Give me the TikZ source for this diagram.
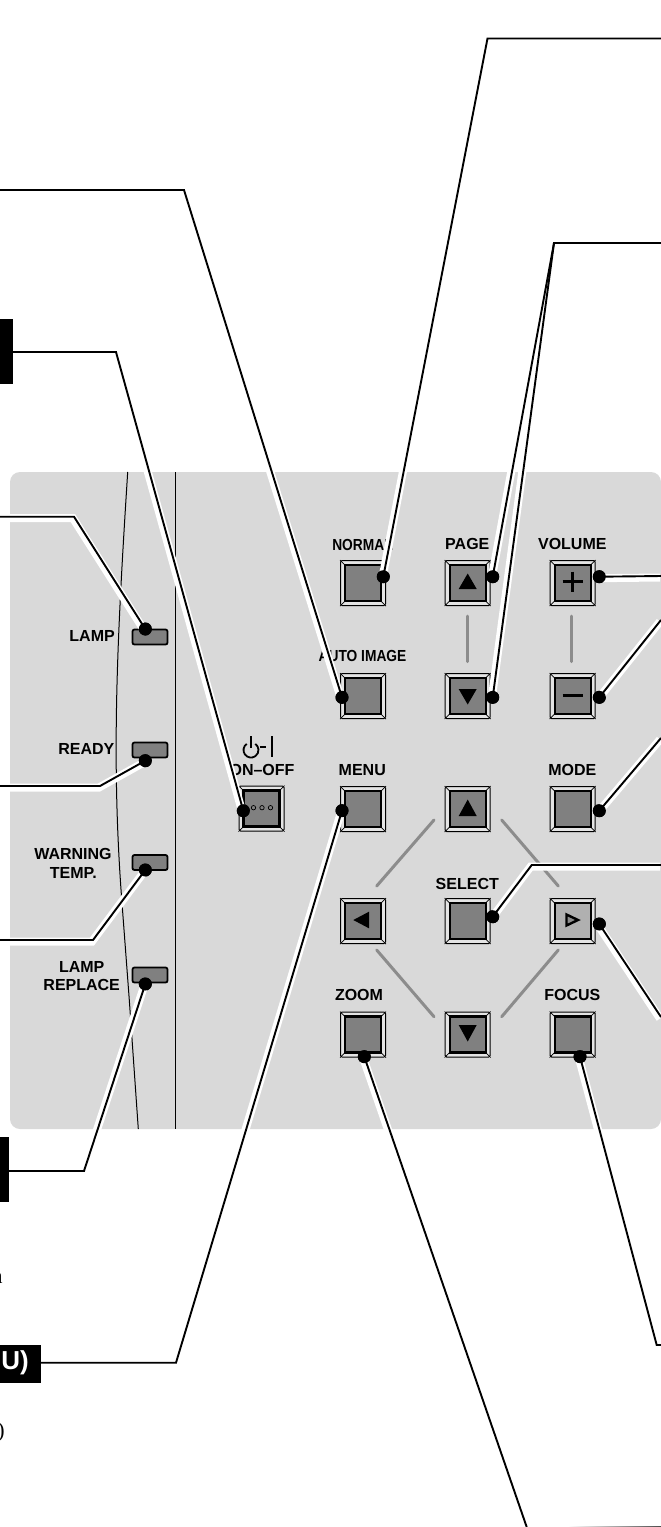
\documentclass[tikz,border=0pt]{standalone}
\usepackage{fontspec}
\setmainfont{Liberation Sans}
\newfontfamily\noteserif{Liberation Serif}
\usetikzlibrary{positioning, calc}
\definecolor{panelgray}{RGB}{217,217,217}
\definecolor{facegray}{RGB}{128,128,128}
\definecolor{litgray}{RGB}{176,176,176}
\definecolor{bargray}{RGB}{140,140,140}
\definecolor{framegray}{RGB}{228,228,228}

\begin{document}
\begin{tikzpicture}[
    x=1pt, y=-1pt,
    every node/.style={font=\fontsize{16}{18}\selectfont\bfseries, inner sep=0pt},
    btnframe/.style={rectangle, draw=black, line width=1pt, fill=framegray, rounded corners=1.5pt, minimum size=45pt},
    btnface/.style={rectangle, draw=black, line width=2.2pt, fill=facegray, minimum size=36pt},
    ledlamp/.style={rectangle, draw=black, line width=1.8pt, fill=facegray, rounded corners=2pt, minimum width=35pt, minimum height=15pt},
    leaddot/.style={circle, fill=black, minimum size=13pt},
    tagbox/.style={rectangle, fill=black, anchor=north west},
    halo/.style={draw=white, line width=8pt, miter limit=20, transform canvas={xshift=-1pt, yshift=-1.5pt}},
    leader/.style={draw=black, line width=1.9pt, line join=miter},
    linkbar/.style={draw=bargray, line width=3pt, line cap=round},
    icon/.style={fill=black, draw=none},
    narrowlbl/.style={xscale=0.86, transform shape},
    notetext/.style={anchor=base east, font=\fontsize{22}{24}\selectfont\noteserif}
]

\useasboundingbox (0,0) rectangle (661,1527);

% panel
\fill[panelgray, rounded corners=10pt] (10,472) rectangle (661,1129);
\draw[line width=1pt] (127.7,472) .. controls (117,640) and (111,760) .. (122,903) -- (129.3,1000) -- (138.3,1129);
\draw[line width=1pt] (175.5,472) -- (175.5,1129);

% link bars
\draw[linkbar] (467.3,616) -- (467.3,661.5);
\draw[linkbar] (571.7,616) -- (571.7,661.5);
\draw[linkbar] (434,820) -- (376.7,886);
\draw[linkbar] (501.7,820) -- (558.3,886);
\draw[linkbar] (376.7,950) -- (434,1016.7);
\draw[linkbar] (558.3,950) -- (501.7,1016.7);

% buttons
\foreach \nm/\cx/\cy in {btnnormal/363/583, btnpageup/467.7/583, btnvolup/572.7/583,
    btnauto/363/696, btnpagedn/467.7/696, btnvoldn/572.7/696,
    btnpower/261.5/808.5, btnmenu/363/809, btnup/467.7/809, btnmode/572.7/809,
    btnleft/363/921, btnselect/467.7/921, btnright/572.7/921,
    btnzoom/363/1034.5, btndown/467.7/1034.5, btnfocus/572.7/1034.5} {
  \node[btnframe] (\nm) at (\cx,\cy) {};
  \draw[line width=0.7pt] (\nm.north west) -- ++(6,6) (\nm.north east) -- ++(-6,6)
      (\nm.south west) -- ++(6,-6) (\nm.south east) -- ++(-6,-6);
  \node[btnface] (\nm-face) at (\nm) {};
}
\node[btnface, fill=litgray] (btnright-face) at (btnright) {};

% button marks
\fill[icon] (458.7,589) -- (476.7,589) -- (467.7,573.5) -- cycle;
\fill[icon] (458.7,689) -- (476.7,689) -- (467.7,704.5) -- cycle;
\fill[icon] (458.7,816) -- (476.7,816) -- (467.7,799.5) -- cycle;
\fill[icon] (458.7,1025) -- (476.7,1025) -- (467.7,1041.5) -- cycle;
\fill[icon] (369,911.7) -- (369,928.3) -- (353.3,920) -- cycle;
\draw[line width=2.4pt, fill=bargray, line join=miter] (566.5,914.5) -- (566.5,925.5) -- (578,920) -- cycle;
\draw[line width=2.6pt] (562.7,581.7) -- (582.7,581.7) (572.7,571.7) -- (572.7,591.7);
\draw[line width=2.6pt] (562.7,695.7) -- (582.7,695.7);
\foreach \ox in {253.5,262,270.5} {
  \draw[line width=0.7pt] (\ox,807.7) circle (2.2);
}

% power mark
\draw[line width=1.8pt] (246.7,743.9) arc[start angle=125, end angle=415, radius=7.5pt];
\draw[line width=1.8pt] (251,736) -- (251,748);
\draw[line width=1.8pt] (260,747) -- (266,747);
\draw[line width=1.8pt] (272,736) -- (272,757);

% leds
\node[ledlamp] (ledlamp) at (150,637) {};
\node[ledlamp] (ledready) at (150,750) {};
\node[ledlamp] (ledtemp) at (150,862.5) {};
\node[ledlamp] (ledreplace) at (150,975) {};

% labels
\node[narrowlbl] (lblnormal) at (362.5,544.5) {NORMAL};
\node (lblpage) at (467.3,544) {PAGE};
\node (lblvolume) at (572.3,544) {VOLUME};
\node[narrowlbl] (lblauto) at (362.5,656) {AUTO IMAGE};
\node (lblonoff) at (262,770) {ON–OFF};
\node (lblmenu) at (362.3,770) {MENU};
\node (lblmode) at (572.3,770) {MODE};
\node (lblselect) at (467.3,884) {SELECT};
\node (lblzoom) at (359,995) {ZOOM};
\node (lblfocus) at (572.3,995) {FOCUS};
\node[anchor=east] (lbllamp) at (115,636) {LAMP};
\node[anchor=east] (lblready) at (114.5,748.7) {READY};
\node (lblwarn) at (73,854) {WARNING};
\node (lbltemp) at (73.3,872.5) {TEMP.};
\node (lblrepa) at (81.7,966.7) {LAMP};
\node (lblrepb) at (81.7,984.5) {REPLACE};
\node[notetext] (notea) at (2.7,1283) {n};
\node[notetext] (noteb) at (5,1437) {)};

% leader ends
\node[leaddot] (dotnormal) at (383.3,576.7) {};
\node[leaddot] (dotpageup) at (492.7,576.7) {};
\node[leaddot] (dotpagedn) at (492.7,697.3) {};
\node[leaddot] (dotauto) at (342,697.3) {};
\node[leaddot] (dotpower) at (243.3,810.7) {};
\node[leaddot] (dotlamp) at (145.3,629) {};
\node[leaddot] (dotready) at (145.3,760.7) {};
\node[leaddot] (dottemp) at (145.3,870) {};
\node[leaddot] (dotreplace) at (145.3,984) {};
\node[leaddot] (dotmenu) at (342,810.7) {};
\node[leaddot] (dotvolup) at (599.3,576.7) {};
\node[leaddot] (dotvoldn) at (599.3,697.3) {};
\node[leaddot] (dotmode) at (599.3,810.7) {};
\node[leaddot] (dotselect) at (492.7,916.7) {};
\node[leaddot] (dotright) at (599.3,924) {};
\node[leaddot] (dotfocus) at (580,1056.7) {};
\node[leaddot] (dotzoom) at (364.3,1056.7) {};

% free ends
\coordinate (endnormal) at (661,38.5);
\coordinate (bendnormal) at (487.5,38.5);
\coordinate (endpage) at (661,243);
\coordinate (bendpage) at (554,243);
\coordinate (endauto) at (0,190);
\coordinate (bendauto) at (184,190);
\coordinate (endpower) at (6,352);
\coordinate (bendpower) at (116,352);
\coordinate (endlamp) at (0,516.7);
\coordinate (bendlamp) at (74,516.7);
\coordinate (endready) at (0,786);
\coordinate (bendready) at (100,786);
\coordinate (endtemp) at (0,940);
\coordinate (bendtemp) at (93,940);
\coordinate (endreplace) at (4,1171);
\coordinate (bendreplace) at (84,1171);
\coordinate (endmenu) at (30,1362.7);
\coordinate (bendmenu) at (176,1362.7);
\coordinate (endvolup) at (661,576);
\coordinate (endvoldn) at (661,620);
\coordinate (endmode) at (661,738);
\coordinate (endselect) at (661,865);
\coordinate (bendselect) at (531.7,865);
\coordinate (endright) at (661,1017);
\coordinate (endfocus) at (661,1345);
\coordinate (bendfocus) at (656.7,1345);
\coordinate (endzoom) at (526.7,1527);

% leaders, white edge first
\def\leaderlist{
    {(endnormal) -- (bendnormal) -- (dotnormal.center)},
    {(endpage) -- (bendpage) -- (dotpageup.center)},
    {(bendpage) -- (dotpagedn.center)},
    {(endauto) -- (bendauto) -- (dotauto.center)},
    {(endpower) -- (bendpower) -- (dotpower.center)},
    {(endlamp) -- (bendlamp) -- (dotlamp.center)},
    {(endready) -- (bendready) -- (dotready.center)},
    {(endtemp) -- (bendtemp) -- (dottemp.center)},
    {(endreplace) -- (bendreplace) -- (dotreplace.center)},
    {(endmenu) -- (bendmenu) -- (dotmenu.center)},
    {(endvolup) -- (dotvolup.center)},
    {(endvoldn) -- (dotvoldn.center)},
    {(endmode) -- (dotmode.center)},
    {(endselect) -- (bendselect) -- (dotselect.center)},
    {(endright) -- (dotright.center)},
    {(endfocus) -- (bendfocus) -- (dotfocus.center)},
    {(endzoom) -- (dotzoom.center)}}
\foreach \pth in \leaderlist {
  \path[halo] \pth;
}
\foreach \pth in \leaderlist {
  \path[leader] \pth;
}
\foreach \nm in {dotnormal,dotpageup,dotpagedn,dotauto,dotpower,dotlamp,dotready,dottemp,dotreplace,dotmenu,dotvolup,dotvoldn,dotmode,dotselect,dotright,dotfocus,dotzoom} {
  \fill (\nm) circle (6.5);
}

% tag boxes at the left edge
\node[tagbox, minimum width=13pt, minimum height=65pt] (tagpower) at (0,319) {};
\node[tagbox, minimum width=9pt, minimum height=65pt] (tagreplace) at (0,1137) {};
\node[tagbox, minimum width=41pt, minimum height=38pt] (tagmenu) at (0,1345) {};
\node[anchor=east, text=white, font=\fontsize{26}{26}\selectfont\bfseries] (tagmenutext) at (29,1363) {U)};

% stub at the bottom edge
\shade[left color=white, right color=black!70] (568,1526) rectangle (661,1527);

\end{tikzpicture}
\end{document}
